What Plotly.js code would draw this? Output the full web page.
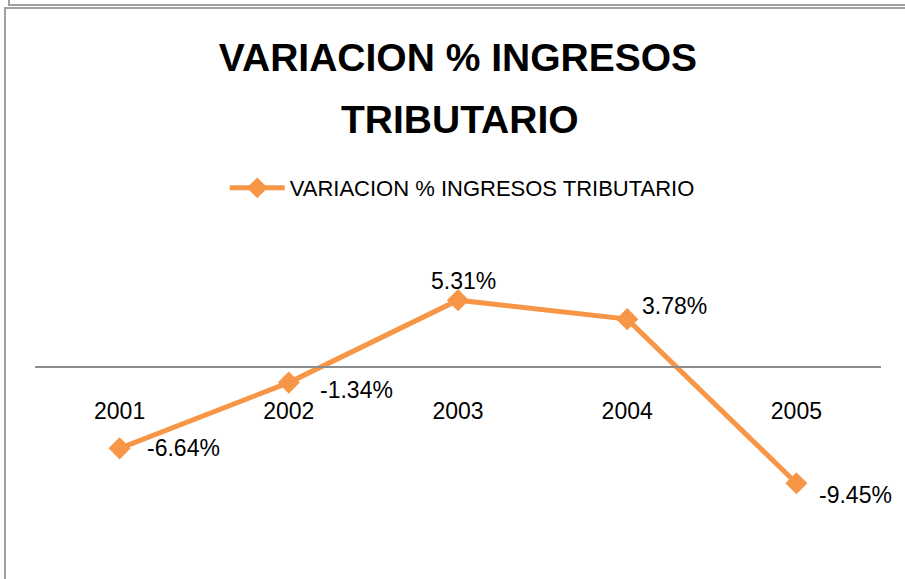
<!DOCTYPE html>
<html>
<head>
<meta charset="utf-8">
<script src="https://cdn.plot.ly/plotly-3.0.1.min.js"></script>
<style>
  html, body { margin: 0; padding: 0; background: #fff; }
  #wrap { position: relative; width: 905px; height: 579px; }
  #chart { width: 905px; height: 579px; }
  .b { position: absolute; background: #a0a0a0; pointer-events: none; }
</style>
</head>
<body>
<div id="wrap">
  <div id="chart"></div>
  <div class="b" style="left:8px; top:0; width:2px; height:5px;"></div>
  <div class="b" style="left:8px; top:4px; width:897px; height:2px;"></div>
  <div class="b" style="left:4px; top:7px; width:901px; height:2px;"></div>
  <div class="b" style="left:4px; top:7px; width:2px; height:572px;"></div>
</div>
<script>
const years = ['2001', '2002', '2003', '2004', '2005'];
const variacion = [-6.64, -1.34, 5.31, 3.78, -9.45];
const labels = ['-6.64%', '-1.34%', '5.31%', '3.78%', '-9.45%'];
const seriesName = 'VARIACION % INGRESOS TRIBUTARIO';
const titleLine1 = 'VARIACION % INGRESOS';
const titleLine2 = 'TRIBUTARIO';

// label placement (styling only)
const labelStyle = [
  { xanchor: 'left', xshift: 25, yshift: 0 },
  { xanchor: 'left', xshift: 29, yshift: -7 },
  { xanchor: 'center', xshift: 5, yshift: 19 },
  { xanchor: 'left', xshift: 13, yshift: 13 },
  { xanchor: 'left', xshift: 21, yshift: -12 }
];

const yMin = -15, yMax = 10;
const orange = '#F79646';
const fontFam = '"Liberation Sans", Arial, sans-serif';

const trace = {
  type: 'scatter',
  mode: 'lines+markers',
  x: years,
  y: variacion,
  name: seriesName,
  line: { color: orange, width: 5 },
  marker: { symbol: 'diamond', size: 17, color: orange },
  cliponaxis: false,
  hoverinfo: 'x+y'
};

// category axis: annotations are placed by category index
const annotations = years.map((yr, i) => ({
  x: i, y: variacion[i], xref: 'x', yref: 'y',
  text: labels[i], showarrow: false,
  xanchor: labelStyle[i].xanchor, yanchor: 'middle',
  xshift: labelStyle[i].xshift, yshift: labelStyle[i].yshift,
  font: { family: fontFam, size: 23, color: '#000' }
}));

annotations.push({
  text: titleLine2, showarrow: false,
  xref: 'paper', yref: 'paper', x: 0.502, y: 1 + (242 - 119) / 310,
  xanchor: 'center', yanchor: 'middle',
  font: { family: fontFam, size: 39, color: '#000', weight: 'bold' }
});

const layout = {
  width: 905,
  height: 579,
  margin: { l: 35, r: 24, t: 242, b: 27 },
  paper_bgcolor: '#fff',
  plot_bgcolor: '#fff',
  font: { family: fontFam, color: '#000' },
  title: {
    text: titleLine1,
    font: { family: fontFam, size: 39, color: '#000', weight: 'bold' },
    x: 0.506, xanchor: 'center',
    yref: 'container', y: 1 - 57 / 579, yanchor: 'middle'
  },
  showlegend: true,
  legend: {
    orientation: 'h',
    x: 0.505, xanchor: 'center',
    y: 1.174, yanchor: 'middle',
    itemwidth: 55,
    font: { family: fontFam, size: 22, color: '#000' },
    bgcolor: 'rgba(0,0,0,0)'
  },
  annotations: annotations,
  xaxis: {
    type: 'category',
    range: [-0.5, 4.5],
    anchor: 'free',
    position: (0 - yMin) / (yMax - yMin),
    showline: true,
    linecolor: '#8c8c8c',
    linewidth: 1.5,
    showgrid: false,
    zeroline: false,
    ticks: '',
    ticklabelstandoff: 24,
    tickfont: { family: fontFam, size: 23, color: '#000' },
    fixedrange: true
  },
  yaxis: {
    range: [yMin, yMax],
    visible: false,
    showgrid: false,
    zeroline: false,
    fixedrange: true
  }
};

Plotly.newPlot('chart', [trace], layout, { displayModeBar: false, staticPlot: true });
</script>
</body>
</html>
